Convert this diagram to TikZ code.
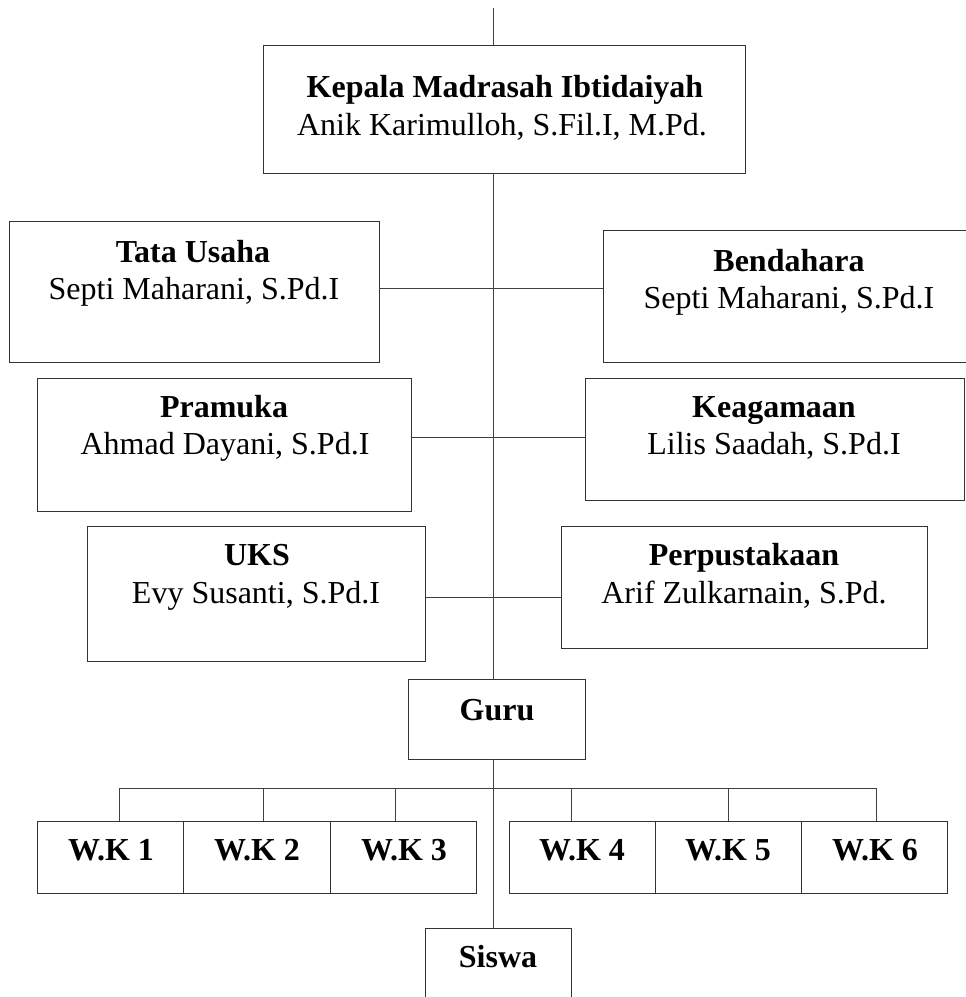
\documentclass[tikz,border=0pt]{standalone}
\usepackage{fontspec}
\setmainfont{Liberation Serif}
\begin{document}
\begin{tikzpicture}[x=1pt,y=-1pt]
\tikzset{
  orgbox/.style={draw=black!80,line width=1pt,inner sep=0pt,outer sep=0pt,rectangle},
  ttl/.style={font=\fontsize{32}{37}\selectfont\bfseries,anchor=base,inner sep=0pt},
  nm/.style={font=\fontsize{32}{37}\selectfont,anchor=base,inner sep=0pt},
  conn/.style={draw=black!75,line width=1pt}
}
\useasboundingbox (0,0) rectangle (966,997);
\clip (0,0) rectangle (966,997);
% boxes
\node[orgbox,minimum width=482pt,minimum height=128pt] (kepala) at (504,109) {};
\node[orgbox,minimum width=370pt,minimum height=141pt] (tata) at (194,291.5) {};
\node[orgbox,minimum width=382pt,minimum height=132pt] (bend) at (794,296) {};
\node[orgbox,minimum width=374pt,minimum height=133pt] (pram) at (224,444.5) {};
\node[orgbox,minimum width=379pt,minimum height=122pt] (keag) at (774.5,439) {};
\node[orgbox,minimum width=338pt,minimum height=135pt] (uks) at (256,593.5) {};
\node[orgbox,minimum width=366pt,minimum height=122pt] (perp) at (744,587) {};
\node[orgbox,minimum width=177pt,minimum height=80pt] (guru) at (496.5,719) {};
\node[orgbox,minimum width=146pt,minimum height=72pt] (wk1) at (110,857) {};
\node[orgbox,minimum width=147pt,minimum height=72pt] (wk2) at (256.5,857) {};
\node[orgbox,minimum width=146pt,minimum height=72pt] (wk3) at (403,857) {};
\node[orgbox,minimum width=146pt,minimum height=72pt] (wk4) at (582,857) {};
\node[orgbox,minimum width=146pt,minimum height=72pt] (wk5) at (728,857) {};
\node[orgbox,minimum width=146pt,minimum height=72pt] (wk6) at (874,857) {};
\node[orgbox,minimum width=146pt,minimum height=82pt] (siswa) at (498,969) {};
% texts
\node[ttl] (kepalaA) at (505,97) {Kepala Madrasah Ibtidaiyah};
\node[nm] (kepalaB) at (502,135) {Anik Karimulloh, S.Fil.I, M.Pd.};
\node[ttl] (tataA) at (193,262) {Tata Usaha};
\node[nm] (tataB) at (194,299) {Septi Maharani, S.Pd.I};
\node[ttl] (bendA) at (789,271) {Bendahara};
\node[nm] (bendB) at (789,308) {Septi Maharani, S.Pd.I};
\node[ttl] (pramA) at (224,417) {Pramuka};
\node[nm] (pramB) at (225,454) {Ahmad Dayani, S.Pd.I};
\node[ttl] (keagA) at (774,417) {Keagamaan};
\node[nm] (keagB) at (774,454) {Lilis Saadah, S.Pd.I};
\node[ttl] (uksA) at (257,565) {UKS};
\node[nm] (uksB) at (256,603) {Evy Susanti, S.Pd.I};
\node[ttl] (perpA) at (744,565) {Perpustakaan};
\node[nm] (perpB) at (744,603) {Arif Zulkarnain, S.Pd.};
\node[ttl] (guruA) at (497,720) {Guru};
\node[ttl] (wk1A) at (111,860) {W.K 1};
\node[ttl] (wk2A) at (257,860) {W.K 2};
\node[ttl] (wk3A) at (404,860) {W.K 3};
\node[ttl] (wk4A) at (582,860) {W.K 4};
\node[ttl] (wk5A) at (728,860) {W.K 5};
\node[ttl] (wk6A) at (875,860) {W.K 6};
\node[ttl] (siswaA) at (498,967) {Siswa};
% helper coordinates
\coordinate (top) at (493,8);
\coordinate (r1) at (0,288.5);
\coordinate (r2) at (0,437);
\coordinate (r3) at (0,597);
\coordinate (t1) at (119,788);
\coordinate (t2) at (263,788);
\coordinate (t3) at (395,788);
\coordinate (t4) at (571,788);
\coordinate (t5) at (728,788);
\coordinate (t6) at (876,788);
% connectors
\draw[conn] (top) -- (top |- kepala.north);
\draw[conn] (top |- kepala.south) -- (top |- guru.north);
\draw[conn] (tata.east |- r1) -- (bend.west |- r1);
\draw[conn] (pram.east |- r2) -- (keag.west |- r2);
\draw[conn] (uks.east |- r3) -- (perp.west |- r3);
\draw[conn] (top |- guru.south) -- (top |- siswa.north);
\draw[conn] (t1) -- (t6);
\draw[conn] (t1) -- (t1 |- wk1.north);
\draw[conn] (t2) -- (t2 |- wk2.north);
\draw[conn] (t3) -- (t3 |- wk3.north);
\draw[conn] (t4) -- (t4 |- wk4.north);
\draw[conn] (t5) -- (t5 |- wk5.north);
\draw[conn] (t6) -- (t6 |- wk6.north);
\end{tikzpicture}
\end{document}
